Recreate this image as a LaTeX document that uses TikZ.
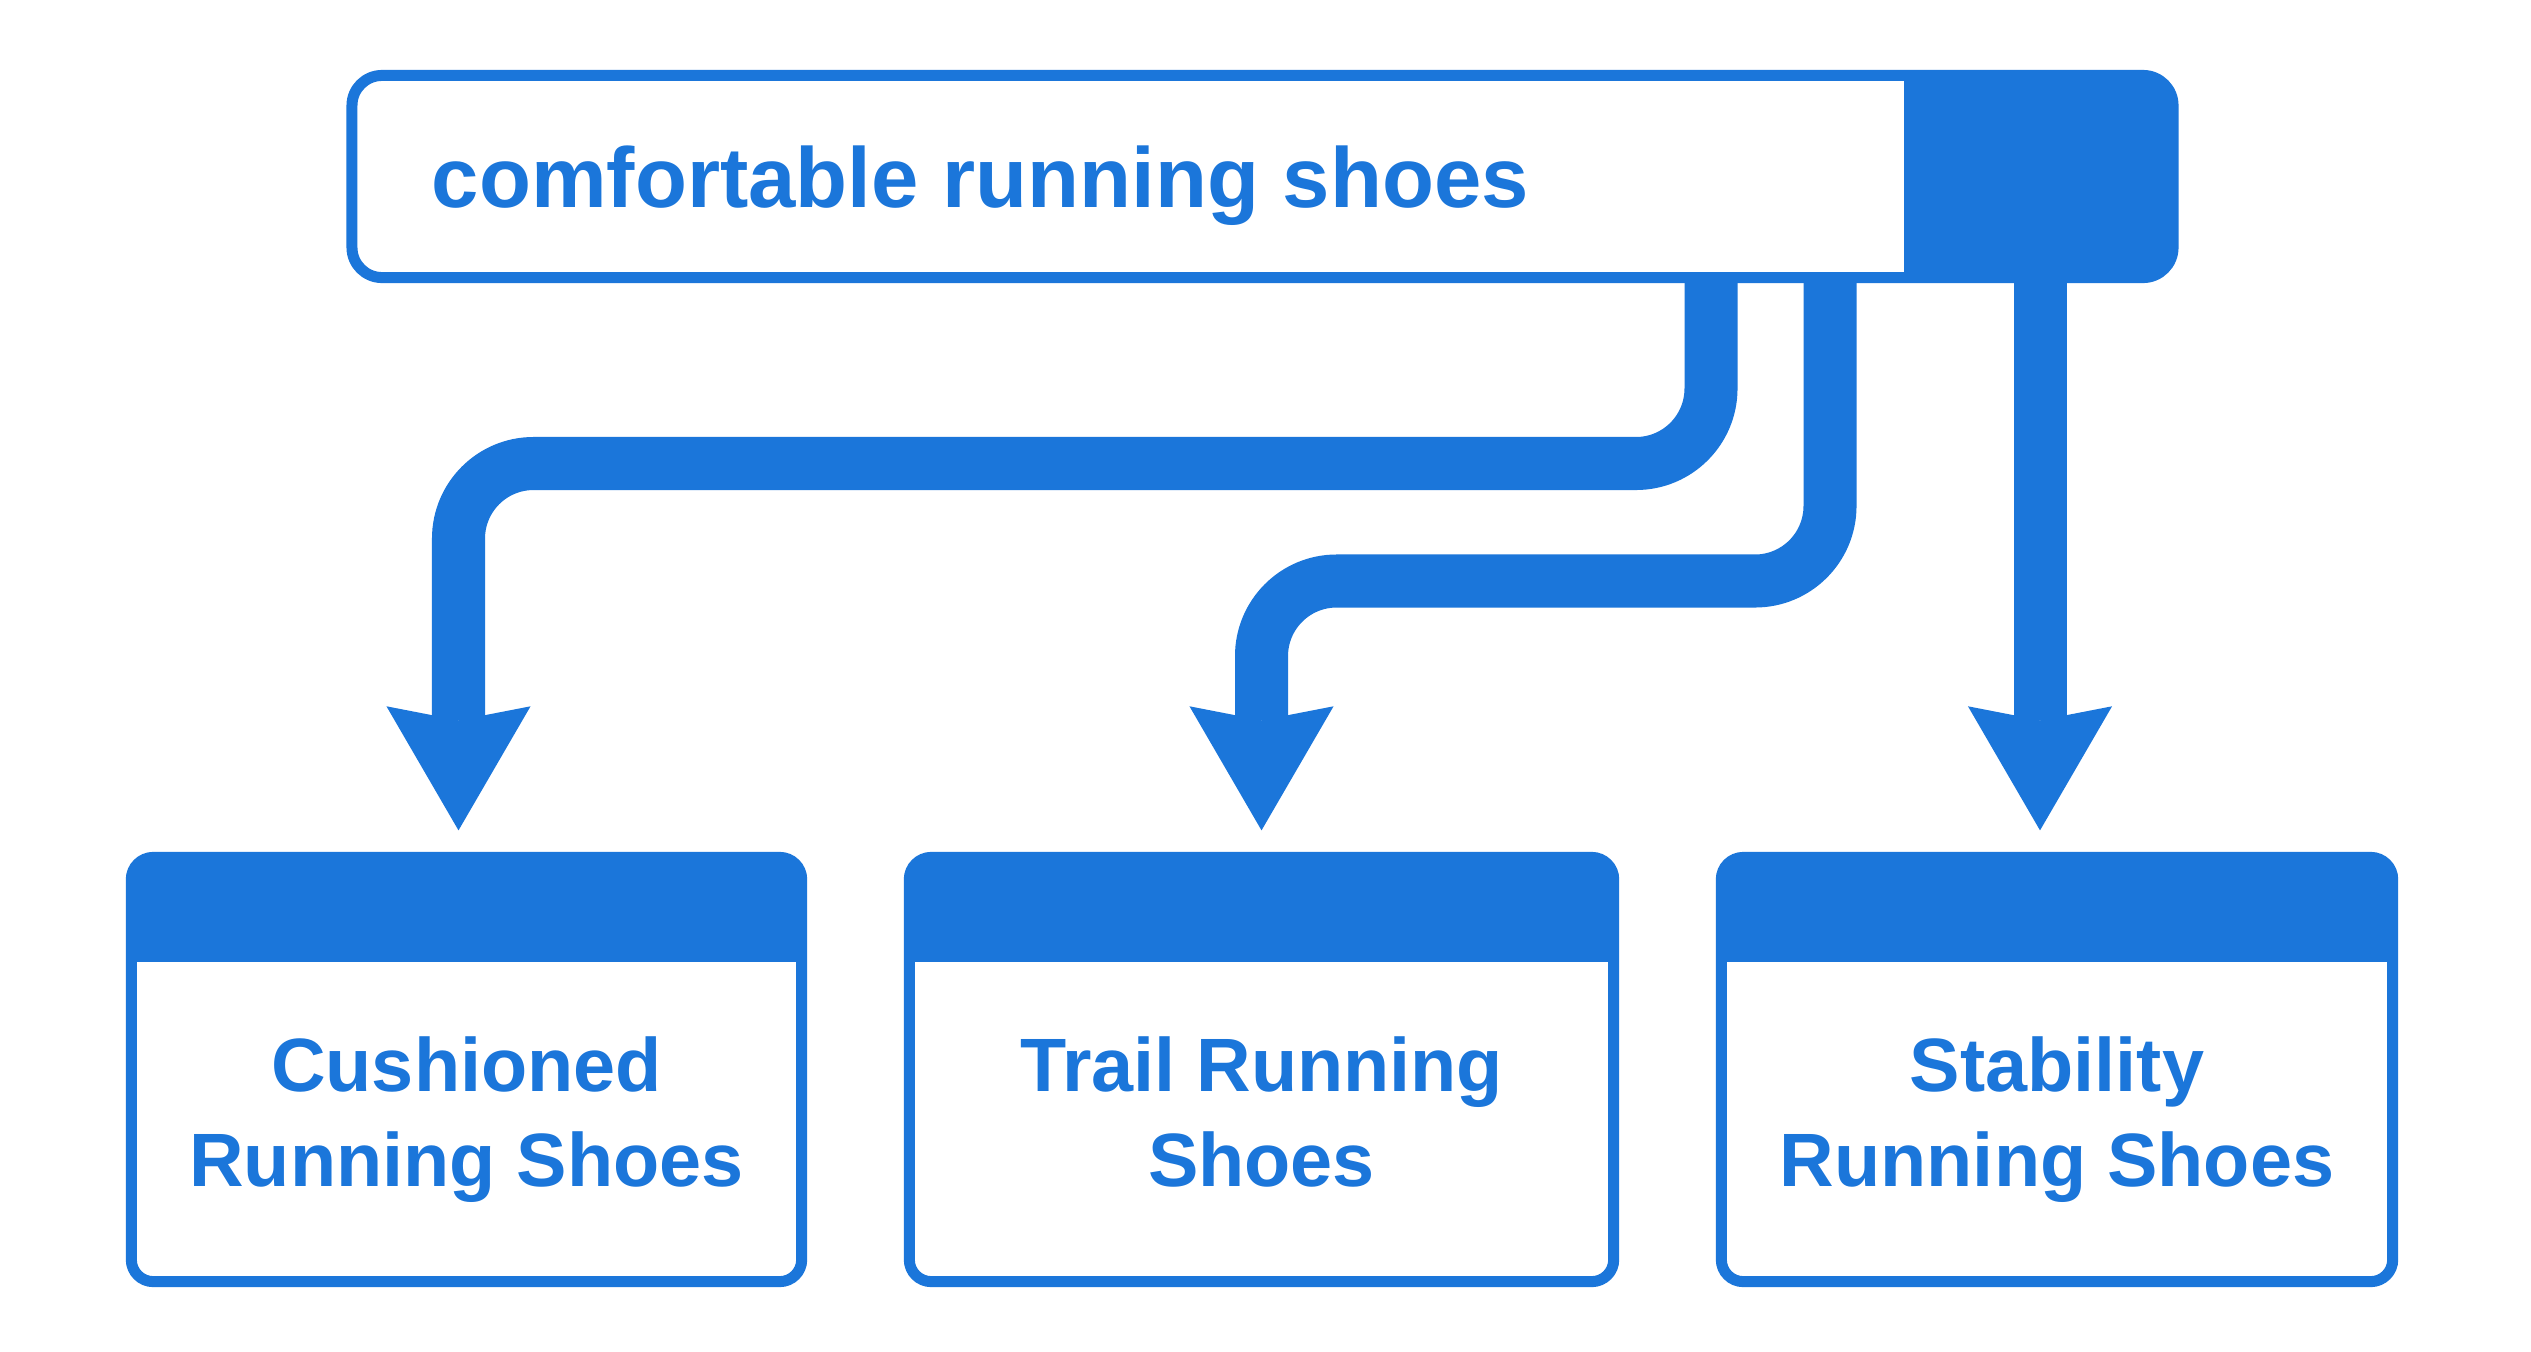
\documentclass[tikz,border=0pt]{standalone}
\usepackage{fontspec}
\setmainfont{Liberation Sans}
\usetikzlibrary{arrows.meta,calc}
\definecolor{brandblue}{HTML}{1B76DA}

\begin{document}
\begin{tikzpicture}[x=0.01cm,y=-0.01cm,
  searchbar/.style={draw=brandblue,line width=0.11cm,fill=white,rounded corners=0.3cm,
    minimum width=18.2cm,minimum height=2.02cm,inner sep=0pt,outer sep=0pt,
    path picture={\fill[brandblue,sharp corners] ([xshift=-2.685cm]path picture bounding box.north east) rectangle (path picture bounding box.south east);}},
  card/.style={draw=brandblue,line width=0.11cm,fill=white,rounded corners=0.22cm,
    minimum height=4.24cm,inner sep=0pt,outer sep=0pt,
    path picture={\fill[brandblue,sharp corners] (path picture bounding box.north west) rectangle ([yshift=-1.045cm]path picture bounding box.north east);}},
  cardtext/.style={text=brandblue,align=center,inner sep=0pt,anchor=north,
    font=\fontsize{21.5}{27}\selectfont\bfseries},
  pipe/.style={draw=brandblue,line width=0.53cm,rounded corners=0.75cm,
    -{Stealth[length=1.24cm,width=1.44cm,inset=0.14cm,line width=0pt]}}]
\fill[white] (0,0) rectangle (2531,1351);
\useasboundingbox (0,0) rectangle (2531,1351);

% search field with its button
\node[searchbar] (searchbar) at (1262.5,176.5) {};
\node[text=brandblue,anchor=base west,inner sep=0pt,
  font=\fontsize{24.2}{29}\selectfont\bfseries] (query) at (431,207) {comfortable running shoes};

% result cards
\node[card,minimum width=6.7cm] (cushioned) at (466.5,1069.5) {};
\node[card,minimum width=7.04cm] (trail) at (1261.5,1069.5) {};
\node[card,minimum width=6.71cm] (stability) at (2057,1069.5) {};
\node[cardtext] (cushionedlbl) at (466.5,1036) {Cushioned\\Running Shoes};
\node[cardtext] (traillbl) at (1261.5,1036) {Trail Running\\Shoes};
\node[cardtext] (stabilitylbl) at (2057,1036) {Stability\\Running Shoes};

% arrow ends above the cards
\coordinate (tip1) at ([xshift=-0.08cm,yshift=0.27cm]cushioned.north);
\coordinate (tip2) at ([yshift=0.27cm]trail.north);
\coordinate (tip3) at ([xshift=-0.17cm,yshift=0.27cm]stability.north);

\draw[pipe] (searchbar.south -| 1711,0) |- (tip1 |- 0,463.5) -- (tip1);
\draw[pipe] (searchbar.south -| 1830,0) |- (tip2 |- 0,581) -- (tip2);
\draw[pipe] (searchbar.south -| tip3) -- (tip3);
\end{tikzpicture}
\end{document}
